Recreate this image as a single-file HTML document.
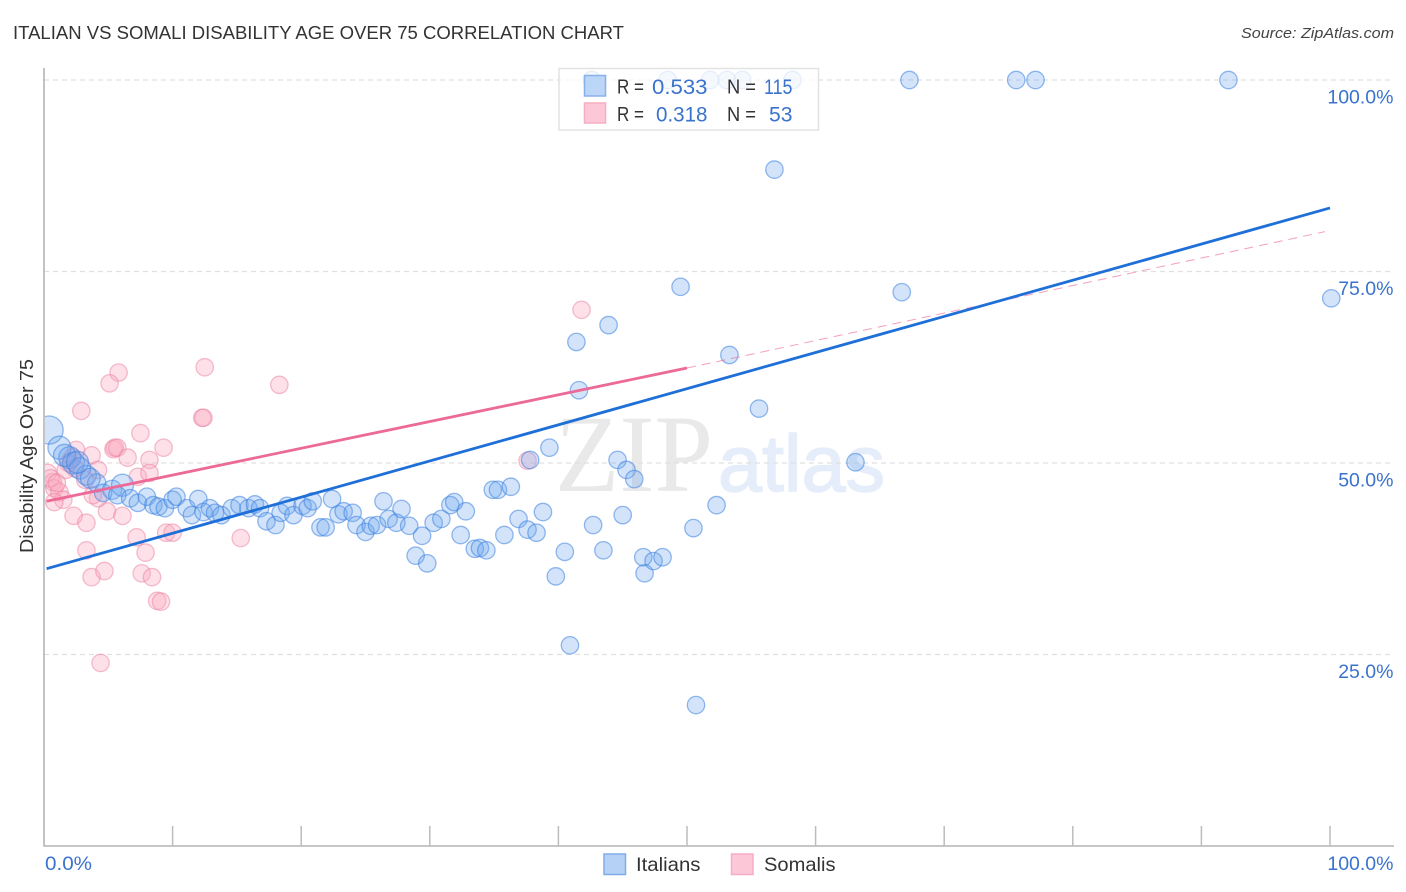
<!DOCTYPE html>
<html>
<head>
<meta charset="utf-8">
<title>Italian vs Somali Disability Age Over 75 Correlation Chart</title>
<style>
html,body{margin:0;padding:0;background:#fff;width:1406px;height:892px;overflow:hidden}
svg{display:block;font-family:"Liberation Sans",sans-serif}
</style>
</head>
<body>
<svg id="chart" width="1406" height="892" viewBox="0 0 1406 892" xmlns="http://www.w3.org/2000/svg">
  <defs><clipPath id="plot-clip"><rect x="45" y="60" width="1349" height="786"/></clipPath></defs>
  <text x="13" y="39" font-size="18.5" fill="#333" textLength="611" lengthAdjust="spacingAndGlyphs">ITALIAN VS SOMALI DISABILITY AGE OVER 75 CORRELATION CHART</text>
  <text x="1394" y="38" font-size="15" font-style="italic" fill="#444" text-anchor="end" textLength="153" lengthAdjust="spacingAndGlyphs">Source: ZipAtlas.com</text>
  <text x="555" y="491" font-size="110" fill="#e9e9e9" font-family="'Liberation Serif',serif" textLength="158" lengthAdjust="spacingAndGlyphs">ZIP</text>
  <text x="718" y="491" font-size="80" fill="#e4edf9" stroke="#e4edf9" stroke-width="1.500" font-family="'Liberation Sans',sans-serif" textLength="167" lengthAdjust="spacingAndGlyphs">atlas</text>
  <g id="grid"></g>
  <g id="axes"></g>
  <g clip-path="url(#plot-clip)">
    <g id="somali-points"></g>
    <g id="italian-points"></g>
  </g>
  <g id="trends"></g>
  <text x="0" y="0" transform="translate(33,456) rotate(-90)" font-size="18" fill="#333" text-anchor="middle" textLength="194" lengthAdjust="spacingAndGlyphs">Disability Age Over 75</text>
  <g>
    <rect x="559" y="68.500" width="259.500" height="61.500" fill="#fff" fill-opacity="0.78" stroke="#e2e2e2" stroke-width="1.500"/>
    <rect x="584.500" y="75.500" width="21" height="20.500" fill="#b6d1f6" fill-opacity="0.9" stroke="#86b0ea" stroke-width="1.500"/>
    <rect x="584.500" y="103" width="21" height="20" fill="#fcc8d8" stroke="#f6aec4" stroke-width="1.500"/>
    <g font-size="20" fill="#333">
      <text x="617" y="93.500" textLength="27" lengthAdjust="spacingAndGlyphs">R =</text>
      <text x="727" y="93.500" textLength="29" lengthAdjust="spacingAndGlyphs">N =</text>
      <text x="617" y="121" textLength="27" lengthAdjust="spacingAndGlyphs">R =</text>
      <text x="727" y="121" textLength="29" lengthAdjust="spacingAndGlyphs">N =</text>
    </g>
    <g font-size="21" fill="#3a72cc">
      <text x="652" y="94" textLength="55.500" lengthAdjust="spacingAndGlyphs">0.533</text>
      <text x="764" y="94" textLength="28.500" lengthAdjust="spacingAndGlyphs">115</text>
      <text x="656" y="121.500" textLength="51.500" lengthAdjust="spacingAndGlyphs">0.318</text>
      <text x="769" y="121.500" textLength="23.500" lengthAdjust="spacingAndGlyphs">53</text>
    </g>
  </g>
  <g>
    <rect x="604" y="854" width="21.500" height="20.500" fill="#b6d1f6" stroke="#80ace8" stroke-width="1.500"/>
    <text x="636" y="871" font-size="19.500" fill="#333" textLength="64.500" lengthAdjust="spacingAndGlyphs">Italians</text>
    <rect x="731.500" y="854" width="21.500" height="20.500" fill="#fcc8d8" stroke="#f6aec4" stroke-width="1.500"/>
    <text x="764" y="871" font-size="19.500" fill="#333" textLength="71.500" lengthAdjust="spacingAndGlyphs">Somalis</text>
  </g>
</svg>
<script>
const italianX = [0.4,1.2,2.0,2.3,2.8,3.3,4.1,4.6,5.3,6.1,1.6,2.6,3.6,5.7,6.7,7.3,8.0,8.5,8.9,9.4,10.0,10.3,11.1,11.5,12.0,12.4,12.9,13.3,13.8,14.6,15.2,15.9,16.4,16.8,17.3,18.0,18.4,18.9,19.4,20.1,20.5,20.9,21.5,21.9,22.4,22.9,23.3,24.0,24.3,25.0,25.4,25.9,26.4,26.8,27.4,27.8,28.4,29.4,28.9,29.8,30.3,30.9,31.6,31.9,32.8,32.4,33.5,33.9,34.4,34.9,35.3,36.3,35.8,36.9,37.6,38.3,38.8,37.8,39.3,40.5,39.8,40.9,42.7,43.5,44.6,45.3,45.9,45.0,46.6,46.7,47.4,48.1,50.5,52.3,50.7,55.6,63.1,41.6,41.4,43.9,49.5,53.3,56.8,66.7,100.1,42.6,48.5,51.8,53.1,54.3,58.2,67.3,75.6,77.1,92.1];
const italianY = [54.3,52.0,50.7,50.0,49.3,48.4,47.4,46.1,46.5,47.1,51.0,50.1,48.0,45.8,45.4,44.8,45.6,44.5,44.3,44.1,45.2,45.6,44.1,43.2,45.3,43.6,44.1,43.5,43.2,44.1,44.5,44.1,44.6,44.1,42.4,41.9,43.5,44.4,43.2,44.4,44.1,45.0,41.6,41.6,45.3,43.3,43.7,43.5,41.9,41.0,41.8,41.9,45.0,42.7,42.2,44.0,41.8,40.5,37.9,36.9,42.2,42.7,44.5,44.9,43.7,40.6,38.8,38.9,38.6,46.5,46.5,46.9,40.6,42.7,41.3,40.9,43.6,50.4,52.0,38.4,35.2,26.2,41.9,38.6,50.4,49.1,47.9,43.2,37.7,35.6,37.2,37.7,41.5,44.5,18.4,57.1,50.1,59.5,65.8,68.0,73.0,64.1,88.3,72.3,71.5,100,100,100,100,100,100,100,100,100,100];
const italianWeight = [2.6,1.75,1.6,1.6,1.5,1.3,1.1,1,1.2,1.6,1.6,1.6,1.3];
const somaliX = [2.9,12.3,12.4,7.5,5.4,5.5,5.7,9.3,6.5,3.7,8.2,2.5,7.3,8.2,4.2,0.3,0.7,0.8,1.2,1.5,0.8,2.3,3.3,4.9,6.1,4.2,3.8,7.2,9.5,10.0,15.3,3.3,7.9,3.7,4.7,7.6,8.4,8.8,9.1,4.4,41.8,12.5,18.3,5.8,5.1,37.6,2.2,1.9,2.4,1.7,3.2,0.5,1.0];
const somaliY = [56.8,55.9,55.9,53.9,51.8,52.0,52.0,52.0,50.7,51.0,50.4,51.7,48.2,48.7,49.1,48.7,47.5,46.7,46.2,45.2,44.9,43.1,42.2,43.7,43.1,45.4,45.8,40.3,40.9,40.9,40.2,38.6,38.3,35.1,35.9,35.6,35.1,32.0,31.9,23.9,70.0,62.5,60.2,61.8,60.4,50.3,50.7,50.0,49.3,49.1,47.8,48.0,47.4];
const italianTrend = [36.2,83.3];
const somaliTrendStart = [45.0,62.4];
const somaliTrendEnd = [62.4,80.2];
const yTickValues = [100,75,50,25];
const yTickLabels = ['100.0%','75.0%','50.0%','25.0%'];
const xTickValues = [0,10,20,30,40,50,60,70,80,90,100];
const xEdgeLabels = ['0.0%','100.0%'];

const NS = 'http://www.w3.org/2000/svg';
const xScale = v => 44 + v * 12.86;
const yScale = v => 846 - v * 7.66;
const rScale = w => 8.7 * Math.sqrt(w);

function make(parent, tag, attrs, text) {
  const el = document.createElementNS(NS, tag);
  for (const k in attrs) el.setAttribute(k, attrs[k]);
  if (text !== undefined) el.textContent = text;
  document.getElementById(parent).appendChild(el);
  return el;
}

yTickValues.forEach((v, i) => {
  const g = make('grid', 'line', {x1:44, x2:1394, y1:yScale(v), y2:yScale(v), stroke:'#e0e0e0', 'stroke-width':1.2, 'stroke-dasharray':'5 4'});
  
  
  const t = make('axes', 'text', {x:1393.5, y:yScale(v)+23.5, 'font-size':19.5, fill:'#3a72cc', 'text-anchor':'end'}, yTickLabels[i]);
  
  
});

const yAxis = make('axes', 'line', {x1:44, x2:44, y1:68, y2:846.5, stroke:'#b4b4b4', 'stroke-width':1.6});


const xAxis = make('axes', 'line', {x1:44, x2:1394, y1:846, y2:846, stroke:'#b4b4b4', 'stroke-width':1.6});



xTickValues.slice(1).forEach(v => {
  const tick = make('axes', 'line', {x1:xScale(v), x2:xScale(v), y1:826, y2:846, stroke:'#bcbcbc', 'stroke-width':1.5});
  
  
});

const xLabelLeft = make('axes', 'text', {x:xScale(xTickValues[0])+1, y:870, 'font-size':19.5, fill:'#3a72cc', textLength:47, lengthAdjust:'spacingAndGlyphs'}, xEdgeLabels[0]);


const xLabelRight = make('axes', 'text', {x:1393.5, y:870, 'font-size':19.5, fill:'#3a72cc', 'text-anchor':'end'}, xEdgeLabels[1]);



somaliX.forEach((x, i) => {
  const c = make('somali-points', 'circle', {cx:xScale(x), cy:yScale(somaliY[i]), r:rScale(1), fill:'#f9a8c0', 'fill-opacity':0.36, stroke:'#ec7fa2', 'stroke-opacity':0.5, 'stroke-width':1.3});
  
  
});

italianX.forEach((x, i) => {
  const w = italianWeight[i] === undefined ? 1 : italianWeight[i];
  const c = make('italian-points', 'circle', {cx:xScale(x), cy:yScale(italianY[i]), r:rScale(w), fill:'#6ea6ee', 'fill-opacity':0.3, stroke:'#3c82e0', 'stroke-opacity':0.55, 'stroke-width':1.3});
  
  
});

const pinkDash = make('trends', 'line', {x1:xScale(50), y1:yScale(somaliTrendEnd[0]), x2:xScale(99.6), y2:yScale(somaliTrendEnd[1]), stroke:'#ee6b98', 'stroke-opacity':0.65, 'stroke-width':1, 'stroke-dasharray':'9 6'});


const pinkLine = make('trends', 'line', {x1:xScale(0.2), y1:yScale(somaliTrendStart[0]), x2:xScale(50), y2:yScale(somaliTrendStart[1]), stroke:'#ec6a97', 'stroke-width':2.8});


const blueLine = make('trends', 'line', {x1:xScale(0.2), y1:yScale(italianTrend[0]), x2:xScale(100), y2:yScale(italianTrend[1]), stroke:'#1f6fd8', 'stroke-width':2.8});


</script>
</body>
</html>
